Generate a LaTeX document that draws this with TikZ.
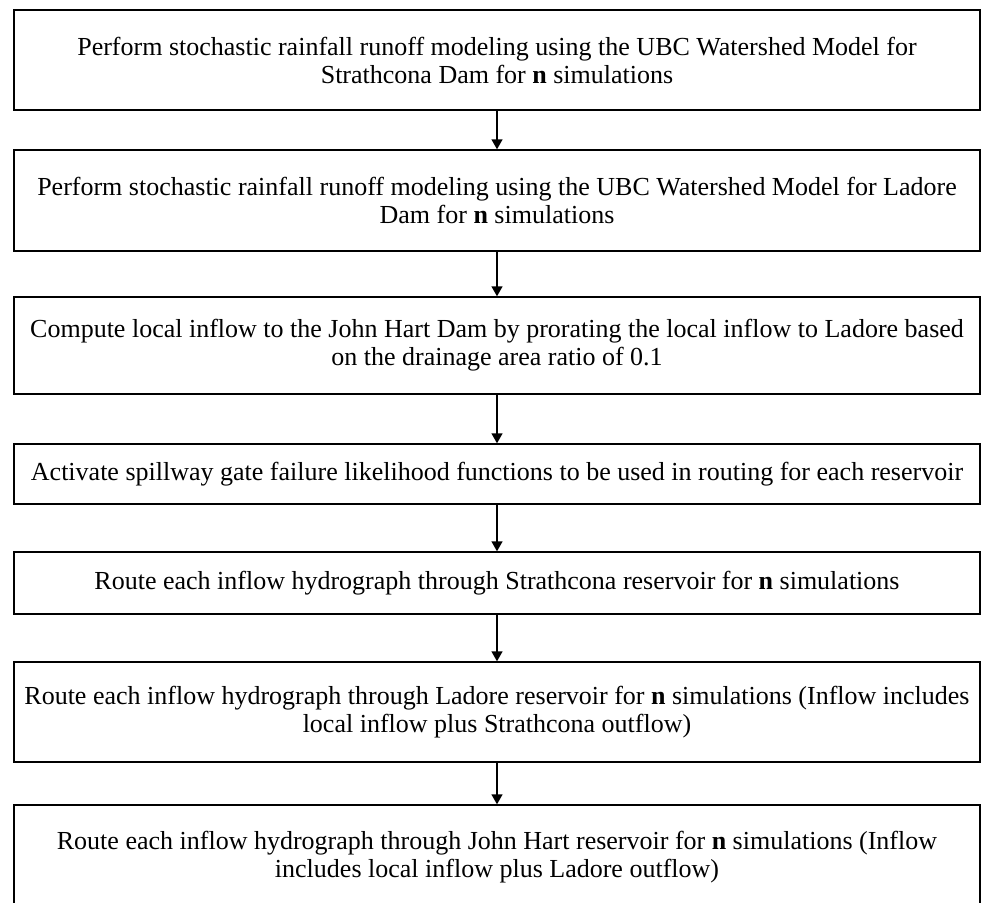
\documentclass[tikz,border=0pt]{standalone}
\usepackage{fontspec}
\setmainfont{Liberation Serif}
\usetikzlibrary{arrows.meta}
\begin{document}
\begin{tikzpicture}[x=1pt,y=-1pt,
  stepbox/.style={draw=black,line width=1.4pt,minimum width=966pt,inner sep=0pt,align=center,
    font=\fontsize{26}{28}\selectfont},
  conn/.style={line width=1.4pt,-{Triangle[length=10pt,width=11pt]}}]
\useasboundingbox (0,0) rectangle (981,902);
\node[stepbox,minimum height=100pt] (b1) at (497,60) {Perform stochastic rainfall runoff modeling using the UBC Watershed Model for\\Strathcona Dam for \textbf{n} simulations};
\node[stepbox,minimum height=101pt] (b2) at (497,200.5) {Perform stochastic rainfall runoff modeling using the UBC Watershed Model for Ladore\\Dam for \textbf{n} simulations};
\node[stepbox,minimum height=97pt] (b3) at (497,345.5) {Compute local inflow to the John Hart Dam by prorating the local inflow to Ladore based\\on the drainage area ratio of 0.1};
\node[stepbox,minimum height=60pt] (b4) at (497,474) {Activate spillway gate failure likelihood functions to be used in routing for each reservoir};
\node[stepbox,minimum height=62pt] (b5) at (497,583) {Route each inflow hydrograph through Strathcona reservoir for \textbf{n} simulations};
\node[stepbox,minimum height=100pt] (b6) at (497,712) {Route each inflow hydrograph through Ladore reservoir for \textbf{n} simulations (Inflow includes\\local inflow plus Strathcona outflow)};
\node[stepbox,minimum height=104pt] (b7) at (497,857) {Route each inflow hydrograph through John Hart reservoir for \textbf{n} simulations (Inflow\\includes local inflow plus Ladore outflow)};
\draw[conn] (b1) -- (b2);
\draw[conn] (b2) -- (b3);
\draw[conn] (b3) -- (b4);
\draw[conn] (b4) -- (b5);
\draw[conn] (b5) -- (b6);
\draw[conn] (b6) -- (b7);
\end{tikzpicture}
\end{document}
